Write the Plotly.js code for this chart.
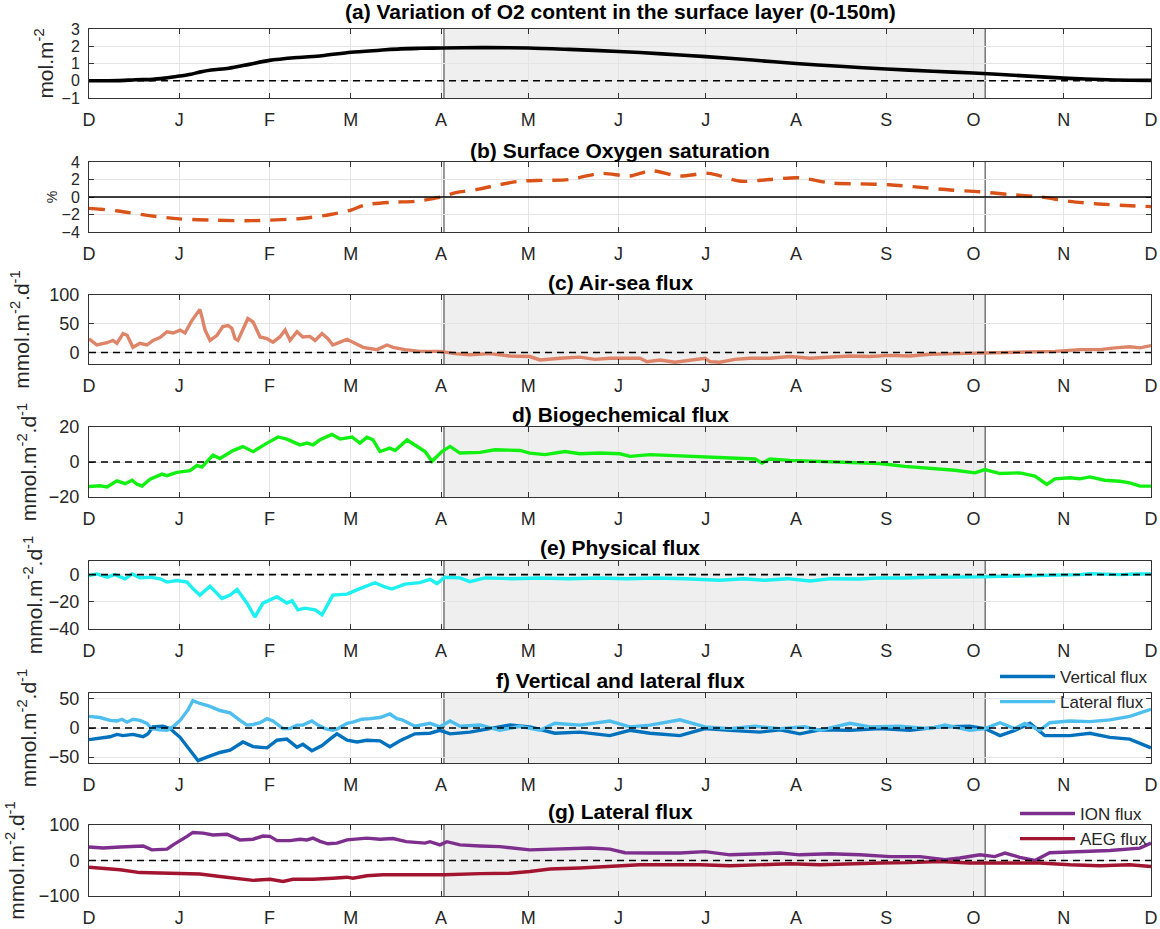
<!DOCTYPE html>
<html>
<head>
<meta charset="utf-8">
<script src="https://cdn.plot.ly/plotly-3.0.1.min.js"></script>
<style>html,body{margin:0;padding:0;background:#fff;}#chart{width:1160px;height:929px;}</style>
</head>
<body>
<div id="chart"></div>
<script>
// ---- month ticks (days since 1 December) ----
const monthTickDays = [0, 31, 62, 90, 121, 151, 182, 212, 243, 274, 304, 335, 365];
const monthTickLabels = ['D','J','F','M','A','M','J','J','A','S','O','N','D'];
// shaded season (days since 1 December)
const shadeStartDay = 122;
const shadeEndDay = 308;

// (a) O2 content, mol m-2
const o2Day = [0, 10, 16, 22, 26, 31, 35, 38, 42, 48, 55, 62, 72, 80, 90, 100, 107, 114, 121, 135, 151, 165, 182, 197, 212, 228, 243, 258, 274, 290, 304, 320, 335, 350, 365];
const o2Val = [0, 0.01, 0.06, 0.08, 0.15, 0.27, 0.38, 0.5, 0.62, 0.72, 0.95, 1.18, 1.35, 1.45, 1.65, 1.77, 1.85, 1.88, 1.9, 1.92, 1.9, 1.82, 1.7, 1.56, 1.4, 1.2, 1.0, 0.84, 0.68, 0.55, 0.45, 0.3, 0.15, 0.06, 0.02];

// (b) surface oxygen saturation, %
const satDay = [0, 4, 10, 20, 31, 43, 56, 73, 83, 90, 95, 104, 112, 121, 126, 134, 141, 148, 156, 165, 176, 186, 193, 203, 213, 224, 234, 244, 255, 265, 275, 286, 296, 306, 316, 327, 337, 347, 358, 365];
const satVal = [-1.3, -1.4, -1.6, -2.1, -2.5, -2.65, -2.7, -2.45, -2.0, -1.5, -0.9, -0.6, -0.5, 0, 0.5, 0.9, 1.4, 1.8, 1.9, 2.0, 2.7, 2.4, 3.0, 2.4, 2.7, 1.8, 2.0, 2.2, 1.6, 1.5, 1.4, 1.1, 0.8, 0.6, 0.3, 0, -0.5, -0.8, -1.0, -1.1];

// (c) air-sea flux, mmol m-2 d-1
const airSeaDay = [0, 2.7, 6.2, 8.2, 9.6, 11.7, 13.1, 15.1, 17.5, 19.9, 22, 24.4, 26.8, 28.9, 31.3, 33, 35.4, 38.1, 38.8, 39.9, 41.6, 44, 46, 47.8, 49.1, 50.2, 51.2, 52.9, 54.6, 56.4, 58.8, 61.2, 63.2, 65.6, 67.4, 69.1, 71.5, 73.5, 75.9, 77.7, 80.1, 82.1, 83.8, 86.3, 88.7, 90.7, 94.2, 99, 102.4, 104.5, 108.6, 113.7, 120.6, 125.8, 130.9, 137.8, 144.7, 151.5, 155, 161.9, 168.7, 173.9, 179, 184.2, 189.3, 191.8, 196.2, 201.4, 206.5, 211.7, 213.4, 216.8, 222, 227.1, 234, 240.9, 247.8, 254.6, 261.5, 268.4, 275.3, 282.1, 289, 297.6, 306.2, 314.8, 323.4, 332, 340.5, 347.4, 352.6, 357.7, 361.2, 365];
const airSeaVal = [24, 13, 17, 21, 16, 33, 30, 9, 16, 13, 21, 26, 36, 34, 39, 34, 56, 75, 62, 39, 21, 30, 45, 47, 42, 24, 21, 39, 59, 53, 27, 24, 18, 27, 39, 21, 36, 27, 28, 21, 33, 24, 13, 18, 23, 18, 9, 5, 13, 9, 5, 2, 2, -2, -4, -2, -6, -7, -13, -10, -8, -12, -10, -10, -10, -16, -13, -17, -13, -10, -16, -17, -12, -10, -10, -7, -10, -8, -6, -7, -5, -6, -3, -2, -1, -1, 0, 2, 5, 5, 8, 10, 8, 12];

// (d) biogeochemical flux, mmol m-2 d-1
const bioDay = [0, 3.8, 6.2, 7.9, 9.6, 12.4, 14.8, 16.5, 18.2, 21, 25.1, 26.8, 30.2, 34.7, 37.1, 38.8, 40.9, 42.6, 45, 49.5, 52.9, 56.4, 61.2, 65, 68, 72.5, 74.9, 77, 79.4, 83.5, 86.3, 90.4, 93.1, 95.5, 97.6, 100, 103.4, 105.2, 109.3, 112.7, 115.5, 117.9, 121.3, 124.1, 127.5, 134.4, 139.5, 148.1, 151.5, 156.7, 163.6, 168.7, 175.6, 182.5, 185.9, 192.8, 203.1, 211.7, 220.3, 228.9, 231.3, 234, 240.9, 251.2, 261.5, 271.8, 280.4, 289, 297.6, 304.5, 307.9, 313.1, 319.9, 325.1, 329.2, 332, 337.1, 340.5, 344, 349.1, 354.3, 357.7, 361.2, 365];
const bioVal = [-14, -13.6, -14.3, -12.4, -10.8, -12.4, -10.4, -12.7, -13.7, -9.8, -6.9, -7.8, -5.9, -4.9, -2, -2.9, 0.6, 3.9, 2, 6.5, 8.8, 5.9, 10.8, 14.3, 13.1, 9.8, 10.8, 9.8, 12.7, 15.7, 13.1, 14.3, 10.8, 14.1, 12.7, 6, 7.9, 6.6, 12.6, 8.9, 6, 0.4, 6, 8.9, 5.1, 5.5, 7, 6.6, 5.1, 4.2, 6, 4.7, 5.1, 4.7, 3.2, 4.2, 3.6, 2.8, 2.3, 1.7, -0.6, 1.7, 0.9, 0.4, -0.2, -0.9, -2.5, -3.4, -4.7, -6.2, -4.3, -6.6, -6.2, -8.1, -12.8, -9.6, -9, -9.6, -8.5, -10.4, -11, -11.9, -13.8, -13.8];

// (e) physical flux, mmol m-2 d-1
const physDay = [0, 2.7, 6.2, 8.9, 12.4, 14.8, 17.5, 21, 24.4, 26.8, 30.2, 33.7, 35.7, 38.1, 41.6, 45.7, 48.5, 50.9, 54.3, 57, 59.8, 64.6, 68, 69.8, 71.8, 74.2, 77.7, 80.1, 83.8, 88.7, 93.1, 98.3, 101.7, 104.1, 108.6, 113.7, 117.2, 119.6, 122.3, 127.5, 130.9, 136.1, 145, 155, 165, 175, 185, 195, 205, 216.8, 225, 232.3, 240, 247.8, 255, 265, 271.8, 280, 289, 298, 306.2, 315, 323.4, 332, 340.5, 344, 350, 354.3, 360, 365];
const physVal = [-0.7, 0.5, -1.9, 0, -3.1, 0.5, -2.4, -1.9, -3.1, -5.5, -4.3, -5.5, -10.3, -15.1, -8.6, -17.5, -15.1, -11, -21, -31.2, -21, -16.3, -21, -19.2, -25.9, -24.7, -25.9, -29.5, -15.1, -14.4, -10.3, -6, -9.1, -10.6, -7, -5.9, -3.5, -6.6, -1.9, -2.4, -5.2, -2.4, -3, -2.5, -3, -2.5, -3, -2.5, -3, -4.2, -3, -4.2, -3, -4.7, -3, -3.2, -2.4, -2.5, -1.9, -2, -1.7, -1.2, -0.9, -0.5, 0, 0.7, 0.2, 0, 0.4, 0.5];

// (f) vertical and lateral flux, mmol m-2 d-1
const lateralDay = [0, 3.8, 7.2, 9.6, 11.3, 13.1, 15.1, 17.5, 19.9, 21.6, 24.4, 26.8, 28.9, 31.3, 34, 35.7, 38.1, 41.6, 45, 48.5, 51.9, 54.3, 56.4, 58.8, 61.2, 63.2, 66.7, 69.1, 71.5, 73.5, 76.6, 78.7, 81.1, 83.8, 85.6, 88.7, 90.7, 93.8, 96.6, 100, 103.4, 105.8, 107.6, 112, 117.2, 120.6, 124.1, 127.5, 134.4, 141.2, 148.1, 155, 160.1, 168.7, 179, 185.9, 192.8, 203.1, 211.7, 220.3, 228.9, 237.5, 246, 251.2, 261.5, 268.4, 278.7, 289, 294.2, 302.7, 307.9, 313.1, 318.2, 321.6, 326.8, 330.2, 337.1, 344, 350.9, 357.7, 365];
const lateralVal = [20, 18, 13, 12, 15, 10, 15, 13, 8, -1, -3, -4, 2, 13, 31, 47, 42, 37, 30, 26, 13, 5, 6, 9, 16, 12, -1, -1, 5, 5, 12, 5, -1, -4, -1, 8, 10, 15, 16, 18, 24, 16, 14, 3, 8, 2, 12, 3, 5, -4, 3, -4, 8, 5, 12, 2, 5, 14, 2, -1, 3, -1, 2, -4, 8, 2, 3, -1, 5, -4, -1, 9, -1, 8, -4, 9, 12, 11, 14, 20, 32];
const verticalDay = [0, 3.8, 7.2, 9.6, 11.7, 15.1, 18.6, 20.3, 22, 25.4, 27.8, 31.3, 34.7, 37.5, 40.5, 45, 48.5, 52.9, 56.4, 61.2, 64.6, 68, 71.5, 73.5, 76.6, 80.1, 82.8, 85.2, 88.7, 92.1, 95.5, 100, 103.4, 106.9, 112, 117.2, 120.6, 124.1, 130.9, 137.8, 144.7, 151.5, 160.1, 168.7, 179, 185.9, 192.8, 203.1, 211.7, 220.3, 230.6, 237.5, 244.3, 251.2, 261.5, 271.8, 282.1, 292.4, 302.7, 307.9, 313.1, 318.2, 323.4, 328.5, 337.1, 344, 350.9, 357.7, 365];
const verticalVal = [-20, -17, -15, -11, -13, -11, -15, -10, 2, 3, -1, -16, -39, -56, -50, -42, -38, -24, -32, -34, -21, -19, -33, -28, -39, -30, -19, -10, -21, -24, -21, -22, -32, -22, -10, -9, -4, -10, -7, -1, 5, 2, -9, -7, -13, -4, -9, -13, -1, -4, -7, -3, -10, -3, -4, -1, -4, 2, 3, -1, -13, -4, 8, -13, -13, -9, -16, -19, -34];

// (g) lateral flux split, mmol m-2 d-1
const ionDay = [0, 4.8, 10.7, 15.1, 18.6, 21.6, 24.4, 26.8, 28.9, 32, 33.7, 35.7, 39.2, 42.6, 47.4, 51.9, 56.4, 59.8, 62.2, 64.6, 69.1, 72.5, 74.9, 77, 79.4, 82.1, 85.2, 88.7, 93.1, 95.5, 100, 104.5, 109, 115.5, 117.2, 120.6, 123, 127.5, 134.4, 141.2, 151.5, 160.1, 172.2, 179, 184.2, 192.8, 203.1, 211.7, 220.3, 230.6, 237.5, 244.3, 254.6, 265, 275.3, 285.6, 294.2, 299.3, 306.2, 311.3, 314.8, 319.9, 325.1, 330.2, 340.5, 350.9, 361.2, 365];
const ionVal = [38, 35, 38, 41, 41, 30, 32, 32, 44, 58, 68, 79, 77, 72, 74, 58, 60, 69, 68, 56, 56, 60, 58, 63, 54, 47, 49, 58, 60, 63, 60, 62, 53, 49, 53, 44, 53, 44, 41, 39, 30, 32, 35, 32, 22, 21, 21, 25, 16, 19, 21, 16, 19, 16, 11, 11, 2, 7, 16, 11, 21, 9, 0, 22, 25, 28, 35, 49];
const aegDay = [0, 6.2, 10.7, 17.5, 24.4, 31.3, 38.1, 45, 51.9, 56.4, 62.2, 66.7, 70.1, 77, 83.8, 88.7, 90.7, 95.5, 101, 110.3, 122.3, 134.4, 144.7, 151.5, 158.4, 168.7, 179, 189.3, 199.7, 210, 220.3, 230.6, 240.9, 251.2, 261.5, 271.8, 282.1, 292.4, 302.7, 307.9, 316.5, 326.8, 337.1, 347.4, 357.7, 365];
const aegVal = [-19, -24, -26, -34, -36, -36, -38, -45, -53, -56, -53, -59, -53, -53, -50, -47, -50, -43, -40, -40, -40, -37, -36, -31, -24, -21, -17, -12, -12, -12, -15, -12, -9, -12, -9, -7, -6, -3, -7, -7, -6, -7, -12, -15, -12, -17];

// ---- layout helpers ----
const FONT = 'Liberation Sans, Arial, Helvetica, sans-serif';
const INK = '#262626';
const XDOM = [89/1160, 1151/1160];
function pyTop(px){ return 1 - px/929; }

const panels = [
  {title:'(a) Variation of O2 content in the surface layer (0-150m)', ytitle:'mol.m<sup>-2</sup>', range:[-1,3], ticks:[-1,0,1,2,3], top:29, bottom:98, titleY:12, zero:'dash', standoff:2, ytSize:21, tickSize:16},
  {title:'(b) Surface Oxygen saturation', ytitle:'%', range:[-4,4], ticks:[-4,-2,0,2,4], top:162, bottom:232, titleY:150, zero:'solid', standoff:0, ytSize:14, tickSize:16},
  {title:'(c) Air-sea flux', ytitle:'mmol.m<sup>-2</sup>.d<sup>-1</sup>', range:[-20,100], ticks:[0,50,100], top:295, bottom:364, titleY:282, zero:'dash', standoff:14, ytSize:21, tickSize:18},
  {title:'d) Biogechemical flux', ytitle:'mmol.m<sup>-2</sup>.d<sup>-1</sup>', range:[-20,20], ticks:[-20,0,20], top:427, bottom:497, titleY:414, zero:'dash', standoff:6, ytSize:21, tickSize:18},
  {title:'(e) Physical flux', ytitle:'mmol.m<sup>-2</sup>.d<sup>-1</sup>', range:[-40,10], ticks:[-40,-20,0], top:561, bottom:629, titleY:547, zero:'dash', standoff:0, ytSize:21, tickSize:18},
  {title:'f) Vertical and lateral flux', ytitle:'mmol.m<sup>-2</sup>.d<sup>-1</sup>', range:[-60,60], ticks:[-50,0,50], top:693, bottom:763, titleY:680, zero:'dash', standoff:6, ytSize:21, tickSize:18},
  {title:'(g) Lateral flux', ytitle:'mmol.m<sup>-2</sup>.d<sup>-1</sup>', range:[-100,100], ticks:[-100,0,100], top:825, bottom:896, titleY:811, zero:'dash', standoff:8, ytSize:21, tickSize:18}
];

const legendBase = {xanchor:'right', yanchor:'top', bgcolor:'rgba(0,0,0,0)', borderwidth:0, font:{size:17, family:FONT, color:INK}, itemwidth:55, tracegroupgap:0};
const layout = {
  width:1160, height:929,
  margin:{l:0, r:0, t:0, b:0},
  paper_bgcolor:'#ffffff', plot_bgcolor:'#ffffff',
  font:{family:FONT, color:INK},
  showlegend:true,
  shapes:[], annotations:[],
  legend:Object.assign({x:1153/1160, y:pyTop(659)}, legendBase),
  legend2:Object.assign({x:1153/1160, y:pyTop(796)}, legendBase)
};

panels.forEach((p, i) => {
  const n = i === 0 ? '' : String(i+1);
  layout['xaxis'+n] = {
    domain:XDOM, range:[0,365], anchor:'y'+n,
    tickmode:'array', tickvals:monthTickDays, ticktext:monthTickLabels,
    ticks:'inside', ticklen:5, tickcolor:'#333', tickwidth:1,
    showline:true, linecolor:'#333', linewidth:1, mirror:'ticks',
    showgrid:true, gridcolor:'#E4E4E4', gridwidth:1, zeroline:false,
    tickfont:{size:18, family:FONT, color:INK}, ticklabelstandoff:5, fixedrange:true
  };
  layout['yaxis'+n] = {
    domain:[pyTop(p.bottom), pyTop(p.top)], range:p.range, anchor:'x'+n,
    tickmode:'array', tickvals:p.ticks,
    ticks:'inside', ticklen:5, tickcolor:'#333', tickwidth:1,
    showline:true, linecolor:'#333', linewidth:1, mirror:'ticks',
    showgrid:true, gridcolor:'#E4E4E4', gridwidth:1, zeroline:false,
    tickfont:{size:p.tickSize, family:FONT, color:INK}, ticklabelstandoff:5,
    automargin:false, fixedrange:true,
    title:{text:p.ytitle, font:{size:p.ytSize, family:FONT, color:INK}, standoff:p.standoff}
  };
  const xr = 'x'+n, yr = 'y'+n;
  if (i !== 1) {
    layout.shapes.push({type:'rect', xref:xr, yref:yr+' domain', x0:shadeStartDay, x1:shadeEndDay, y0:0, y1:1, fillcolor:'#EFEFEF', line:{width:0}, layer:'below'});
  }
  layout.shapes.push({type:'line', xref:xr, yref:yr+' domain', x0:shadeStartDay, x1:shadeStartDay, y0:0, y1:1, line:{color:'#333', width:1}, layer:'below'});
  layout.shapes.push({type:'line', xref:xr, yref:yr+' domain', x0:shadeEndDay, x1:shadeEndDay, y0:0, y1:1, line:{color:'#333', width:1}, layer:'below'});
  // zero reference line
  layout.shapes.push({type:'line', xref:xr+' domain', yref:yr, x0:0, x1:1, y0:0, y1:0,
    line:{color:'#000', width:p.zero==='solid'?1.5:1.6, dash:p.zero==='solid'?'solid':'7px,5px'}, layer:'above'});
  // panel title
  layout.annotations.push({text:'<b>'+p.title+'</b>', xref:'paper', yref:'paper', x:(XDOM[0]+XDOM[1])/2, y:pyTop(p.titleY), xanchor:'center', yanchor:'middle', showarrow:false, font:{size:21, family:FONT, color:'#000'}});
});

const traces = [
  {x:o2Day, y:o2Val, xaxis:'x', yaxis:'y', mode:'lines', line:{color:'#000000', width:3.6, shape:'spline', smoothing:0.8}, showlegend:false, name:'O2 content'},
  {x:satDay, y:satVal, xaxis:'x2', yaxis:'y2', mode:'lines', line:{color:'#D95319', width:3.4, shape:'spline', smoothing:0.8, dash:'16px,10px'}, showlegend:false, name:'Saturation'},
  {x:airSeaDay, y:airSeaVal, xaxis:'x3', yaxis:'y3', mode:'lines', line:{color:'#DE8468', width:3.4}, showlegend:false, name:'Air-sea flux'},
  {x:bioDay, y:bioVal, xaxis:'x4', yaxis:'y4', mode:'lines', line:{color:'#12F012', width:3.4}, showlegend:false, name:'Biogeochemical flux'},
  {x:physDay, y:physVal, xaxis:'x5', yaxis:'y5', mode:'lines', line:{color:'#1CF0F0', width:3.4}, showlegend:false, name:'Physical flux'},
  {x:verticalDay, y:verticalVal, xaxis:'x6', yaxis:'y6', mode:'lines', line:{color:'#0072BD', width:3.4}, name:'Vertical flux', legend:'legend'},
  {x:lateralDay, y:lateralVal, xaxis:'x6', yaxis:'y6', mode:'lines', line:{color:'#4DBEEE', width:3.4}, name:'Lateral flux', legend:'legend'},
  {x:ionDay, y:ionVal, xaxis:'x7', yaxis:'y7', mode:'lines', line:{color:'#7E2F8E', width:3.4}, name:'ION flux', legend:'legend2'},
  {x:aegDay, y:aegVal, xaxis:'x7', yaxis:'y7', mode:'lines', line:{color:'#A2142F', width:3.4}, name:'AEG flux', legend:'legend2'}
];

Plotly.newPlot('chart', traces, layout, {displayModeBar:false, staticPlot:true});
</script>
</body>
</html>
